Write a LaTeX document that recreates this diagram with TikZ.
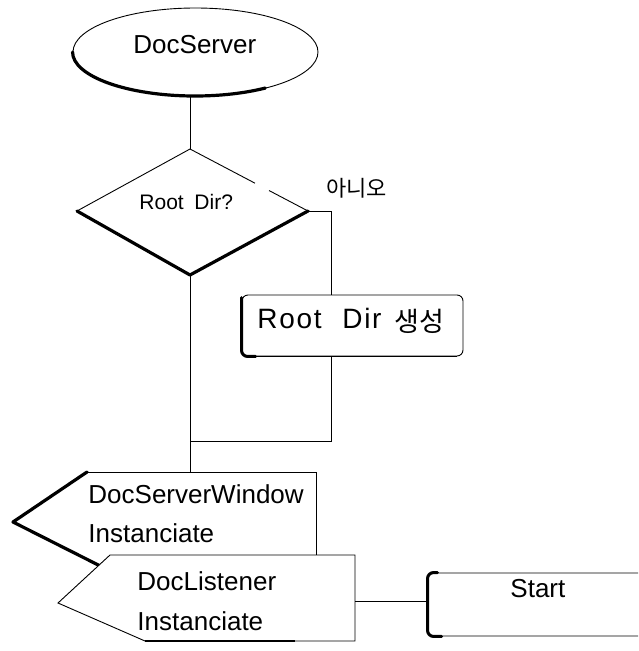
\documentclass[tikz,border=0pt]{standalone}
\usepackage{fontspec}
\setmainfont{Liberation Sans}
\newfontfamily\kr{Noto Sans CJK KR}
\usetikzlibrary{shapes.geometric}
\begin{document}
\begin{tikzpicture}[x=1pt,y=-1pt,
  line width=0.9pt,
  boldedge/.style={line width=3.2pt, line cap=round, line join=round},
  txt/.style={inner sep=0pt, anchor=base west},
  bigtxt/.style={txt, font=\fontsize{26}{30}\selectfont},
  boxtxt/.style={txt, font=\fontsize{28}{30}\selectfont\addfontfeatures{LetterSpace=6}},
  smalltxt/.style={txt, font=\fontsize{21}{24}\selectfont},
  rbox/.style={draw, rectangle, rounded corners=6pt, inner sep=0pt}]
\useasboundingbox (0,0) rectangle (638,651);
\clip (0,0) rectangle (638,651);

% DocServer ellipse
\node[draw, ellipse, minimum width=245pt, minimum height=88pt, inner sep=0pt] (ds) at (195.5,52) {};
\draw[boldedge] (ds.west) arc[start angle=180, end angle=305, x radius=122.5pt, y radius=44pt];
\node[bigtxt] (dst) at (133,53) {DocServer};

% Root Dir? diamond
\coordinate (dt) at (190,149);
\coordinate (dr) at (308,211);
\coordinate (db) at (190,275);
\coordinate (dl) at (77,211);
\coordinate (g1) at (255,183.2);
\coordinate (g2) at (269,190.5);
\draw (dl) -- (dt) -- (g1);
\draw (g2) -- (dr);
\draw[boldedge] (dl) -- (db) -- (dr);
\node[smalltxt] (rdq1) at (139,209) {Root};
\node[smalltxt] (rdq2) at (194,209) {Dir?};
\draw (dt |- ds.south) -- (dt);

% "No" label
\node[txt, font=\kr\fontsize{22}{26}\selectfont] (no) at (326,196) {아니오};

% Root Dir box
\node[rbox, minimum width=221pt, minimum height=61pt] (rb) at (352.5,325.5) {};
\draw[boldedge, line width=3pt, rounded corners=6pt] ([yshift=-3pt]rb.north west) -- (rb.south west) -- ([xshift=14pt]rb.south west);
\draw[line width=1.6pt] ([xshift=10pt]rb.south west) -- ([xshift=-6pt]rb.south east);
\node[boxtxt] (rbt1) at (257,328) {Root};
\node[boxtxt] (rbt2) at (342,328) {Dir};
\node[txt, font=\kr\fontsize{27}{30}\selectfont] (rbt3) at (394,331) {생성};

\coordinate (nb) at (331,211);
\draw (dr) -- (nb) -- (nb |- rb.north);
\coordinate (mr) at (331,441);
\coordinate (ml) at (190,441);
\draw (mr |- rb.south) -- (mr) -- (ml);

% DocServerWindow shape
\coordinate (wtl) at (87,472);
\coordinate (wtr) at (316,472);
\coordinate (wbr) at (316,580);
\coordinate (wbl) at (128,580);
\coordinate (wtip) at (13,522);
\draw (wtl) -- (wtr) -- (wbr) -- (wbl);
\draw[boldedge] (wtl) -- (wtip) -- (wbl);
\draw (db) -- (db |- wtl);
\node[bigtxt] (w1) at (88,503) {DocServerWindow};
\node[bigtxt] (w2) at (88,542) {Instanciate};

% DocListener shape
\coordinate (ltl) at (110,555);
\coordinate (ltr) at (355,555);
\coordinate (lbr) at (355,641);
\coordinate (lbl) at (145,641);
\coordinate (ltip) at (58,603);
\filldraw[fill=white] (ltl) -- (ltr) -- (lbr) -- (lbl) -- (ltip) -- cycle;
\draw[line width=1.5pt] (lbl) -- ([xshift=-60pt]lbr);
\node[bigtxt] (l1) at (137,590) {DocListener};
\node[bigtxt] (l2) at (137,630) {Instanciate};

% Start box
\node[rbox, minimum width=240pt, minimum height=63pt] (st) at (548,604.5) {};
\draw[boldedge, line width=3pt, rounded corners=6pt] ([xshift=10pt]st.north west) -- (st.north west) -- (st.south west) -- ([xshift=14pt]st.south west);
\node[bigtxt] (stt) at (510,597) {Start};

\coordinate (lr) at (355,601);
\draw (lr) -- (lr -| st.west);
\end{tikzpicture}
\end{document}
